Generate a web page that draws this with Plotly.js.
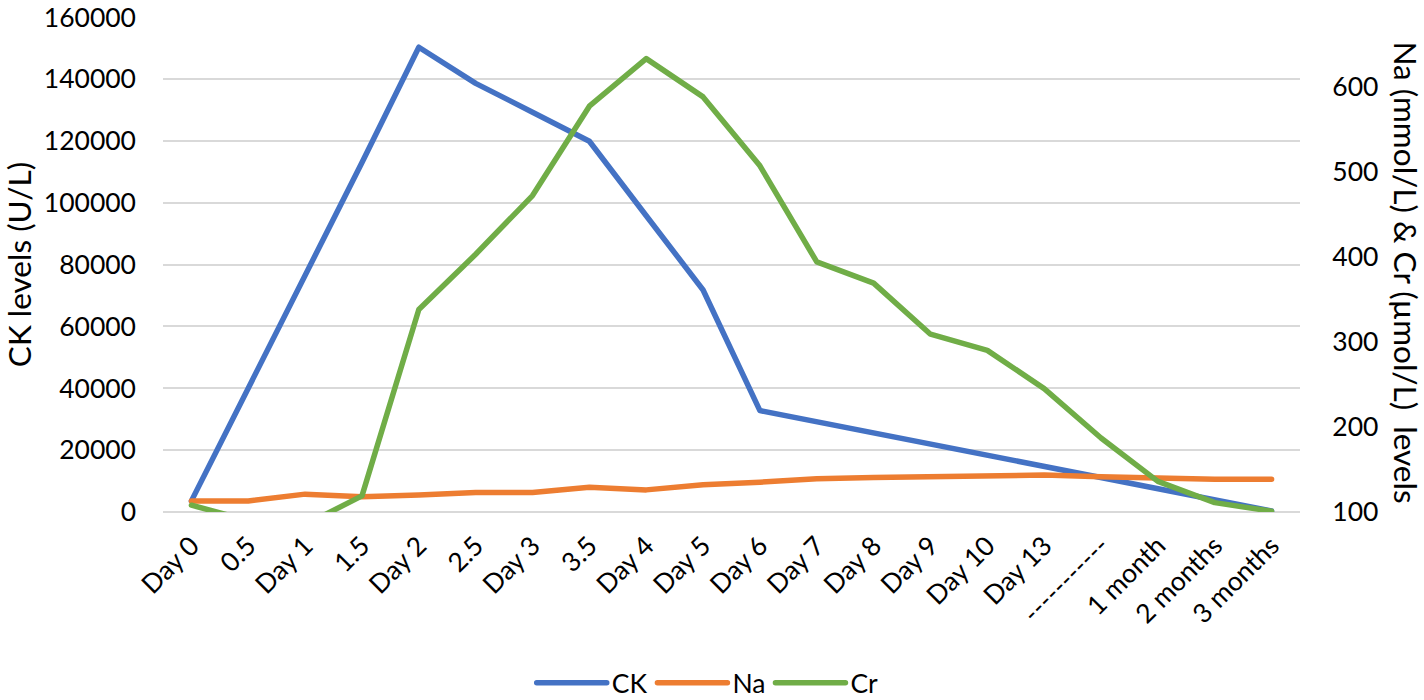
<!DOCTYPE html>
<html>
<head>
<meta charset="utf-8">
<script src="https://cdn.plot.ly/plotly-3.0.1.min.js"></script>
<style>
  html, body { margin: 0; padding: 0; background: #ffffff; }
  #chart { width: 1424px; height: 700px; }
  .js-line { stroke-linejoin: round !important; stroke-linecap: round !important; }
</style>
</head>
<body>
<div id="chart"></div>
<script>
// Categories (x axis tick labels)
const categories = ['Day 0', '0.5', 'Day 1', '1.5', 'Day 2', '2.5', 'Day 3', '3.5', 'Day 4', 'Day 5',
  'Day 6', 'Day 7', 'Day 8', 'Day 9', 'Day 10', 'Day 13', '-----------', '1 month', '2 months', '3 months'];

// CK levels (U/L) - left axis
const ck = [3600, 40000, 76500, 113000, 150300, 138600, 129300, 119900, 95800, 71800,
  32800, 29200, 25600, 21900, 18300, 14700, 11000, 7400, 3700, 300];

// Na (mmol/L) - right axis
const na = [113, 113, 121, 118, 120, 123, 123, 129, 126, 132,
  135, 139, 140.5, 141.5, 141.5, 143.5, 141.5, 139.5, 138.5, 138.5];

// Cr (µmol/L) - right axis
const cr = [108, 90, 85, 119, 338, 403, 472, 577, 633, 588,
  507, 394, 369, 309, 290, 245, 187, 136, 111, 101];

const FONT = 'Lato, "Open Sans", sans-serif';
const FS = 26.5;
const TFS = 31.5;
const LW = 5.5;

const traces = [
  { x: categories, y: ck, name: 'CK', type: 'scatter', mode: 'lines',
    line: { color: '#4472C4', width: LW }, yaxis: 'y', hoverinfo: 'x+y' },
  { x: categories, y: na, name: 'Na', type: 'scatter', mode: 'lines',
    line: { color: '#ED7D31', width: LW }, yaxis: 'y2', hoverinfo: 'x+y' },
  { x: categories, y: cr, name: 'Cr', type: 'scatter', mode: 'lines',
    line: { color: '#70AD47', width: LW }, yaxis: 'y2', hoverinfo: 'x+y' }
];

const layout = {
  width: 1424, height: 700,
  margin: { l: 163, r: 124, t: 17, b: 188, autoexpand: false },
  paper_bgcolor: '#ffffff', plot_bgcolor: '#ffffff',
  font: { family: FONT, size: FS, color: '#000000' },
  showlegend: true,
  legend: { orientation: 'h', x: 0.497, xref: 'container', xanchor: 'center',
    y: 17 / 700, yref: 'container', yanchor: 'middle',
    font: { family: FONT, size: FS, color: '#000000' }, itemwidth: 70, traceorder: 'normal' },
  xaxis: {
    type: 'category', range: [-0.5, 19.5], tickangle: -45,
    showgrid: false, zeroline: false, showline: false, ticks: '',
    tickfont: { family: FONT, size: FS }, ticklabelstandoff: 12
  },
  yaxis: {
    range: [0, 160080], tick0: 0, dtick: 20000, showgrid: true,
    gridcolor: '#D9D9D9', gridwidth: 1.8, zeroline: true, zerolinecolor: '#D9D9D9', zerolinewidth: 1.8,
    showline: false, ticks: '', tickformat: 'd', ticklabeloverflow: 'allow',
    tickfont: { family: FONT, size: FS }, ticklabelstandoff: 26,
    title: { text: 'CK levels (U/L)', font: { family: FONT, size: TFS }, standoff: 10 }
  },
  yaxis2: {
    overlaying: 'y', side: 'right', range: [100, 681.9], tick0: 100, dtick: 100,
    showgrid: false, zeroline: false, showline: false, ticklabeloverflow: 'allow',
    ticks: 'outside', ticklen: 26, tickcolor: 'rgba(0,0,0,0)',
    tickfont: { family: FONT, size: FS }
  },
  annotations: [
    { text: 'Na (mmol/L) &amp; Cr (µmol/L)  levels', xref: 'paper', yref: 'paper',
      x: 1, xshift: 106, y: 0.5, yshift: -8, xanchor: 'center', yanchor: 'middle', textangle: 90,
      showarrow: false, font: { family: FONT, size: TFS, color: '#000000' } }
  ]
};

Plotly.newPlot('chart', traces, layout, { displayModeBar: false, responsive: false });
</script>
</body>
</html>
